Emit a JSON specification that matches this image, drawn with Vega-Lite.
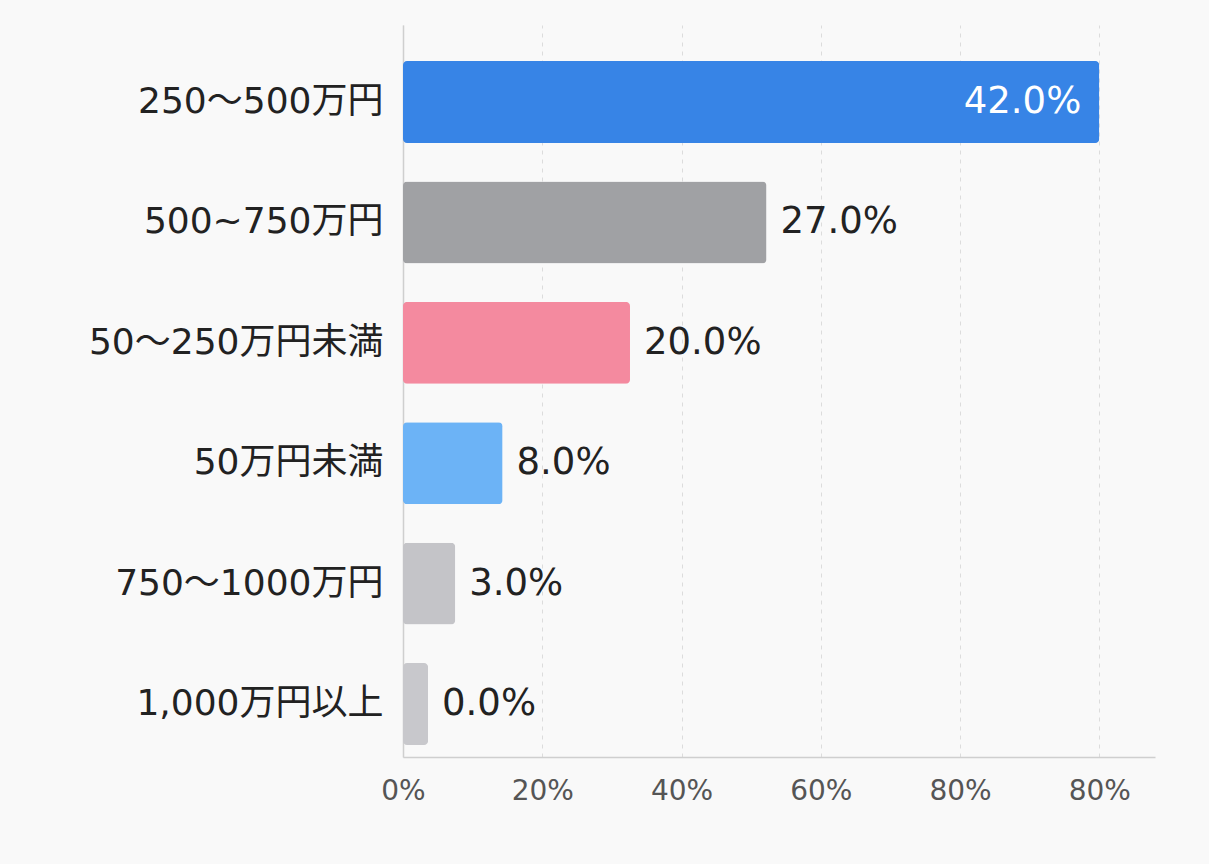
{
  "$schema": "https://vega.github.io/schema/vega-lite/v6.json",
  "autosize": "none",
  "width": 752,
  "height": 732,
  "padding": {"left": 403, "top": 25, "right": 54, "bottom": 107},
  "background": "#f9f9f9",
  "config": {"view": {"stroke": null}, "font": "DejaVu Sans, Noto Sans CJK JP"},
  "data": {
    "values": [
      {"category": "250～500万円", "bar": 100, "label": "42.0%"},
      {"category": "500~750万円", "bar": 52.2, "label": "27.0%"},
      {"category": "50～250万円未満", "bar": 32.6, "label": "20.0%"},
      {"category": "50万円未満", "bar": 14.3, "label": "8.0%"},
      {"category": "750～1000万円", "bar": 7.5, "label": "3.0%"},
      {"category": "1,000万円以上", "bar": 3.6, "label": "0.0%"}
    ]
  },
  "encoding": {
    "y": {
      "field": "category",
      "type": "nominal",
      "sort": null,
      "scale": {"paddingInner": 0.32, "paddingOuter": 0.2, "align": 0.75},
      "axis": {
        "title": null,
        "ticks": false,
        "domainColor": "#cfcfcf",
        "domainWidth": 1.5,
        "labelFontSize": 36,
        "labelColor": "#222222",
        "labelPadding": 20,
        "labelLimit": 0
      }
    },
    "x": {
      "field": "bar",
      "type": "quantitative",
      "scale": {"domain": [0, 108], "nice": false, "zero": true},
      "axis": {
        "title": null,
        "values": [0, 20, 40, 60, 80, 100],
        "labelExpr": "datum.value == 100 ? '80%' : datum.value + '%'",
        "labelFlush": false,
        "ticks": false,
        "grid": true,
        "gridDash": [4, 5],
        "gridColor": "#dcdcdc",
        "domainColor": "#cfcfcf",
        "domainWidth": 1.5,
        "labelFontSize": 28,
        "labelColor": "#555555",
        "labelPadding": 20
      }
    }
  },
  "layer": [
    {
      "mark": {"type": "bar", "cornerRadius": 4},
      "encoding": {
        "color": {
          "field": "category",
          "type": "nominal",
          "legend": null,
          "scale": {
            "domain": ["250～500万円", "500~750万円", "50～250万円未満", "50万円未満", "750～1000万円", "1,000万円以上"],
            "range": ["#3784e6", "#a0a1a4", "#f48a9f", "#6cb3f6", "#c4c4c8", "#c8c8cc"]
          }
        }
      }
    },
    {
      "transform": [{"filter": "datum.bar >= 90"}],
      "mark": {"type": "text", "align": "right", "dx": -18, "fontSize": 37, "color": "#ffffff"},
      "encoding": {"text": {"field": "label"}}
    },
    {
      "transform": [{"filter": "datum.bar < 90"}],
      "mark": {"type": "text", "align": "left", "dx": 14, "fontSize": 37, "color": "#222222"},
      "encoding": {"text": {"field": "label"}}
    }
  ]
}
